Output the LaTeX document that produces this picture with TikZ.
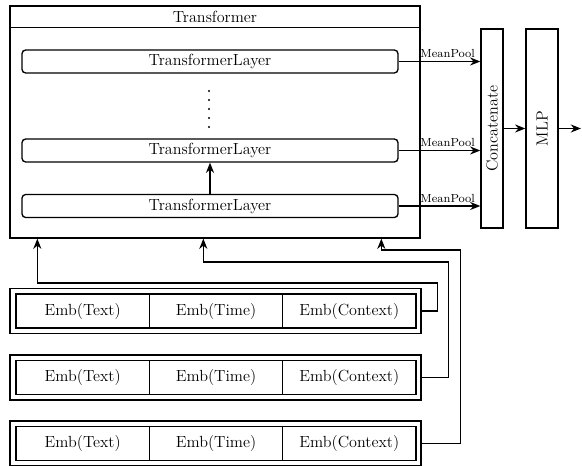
\documentclass[tikz,border=0pt]{standalone}
\usetikzlibrary{arrows.meta}
\def\u{0.024cm}
\tikzset{
  box/.style={draw, line width=0.9pt, inner sep=0pt},
  layerbox/.style={box, rounded corners=2.5pt, minimum width=376*\u, minimum height=23*\u},
  cell/.style={box, minimum width=133.3*\u, minimum height=34*\u},
  arr/.style={-{Stealth[length=7pt,width=5.5pt]}, line width=0.9pt},
  pool/.style={above, pos=0.6, font=\footnotesize, inner sep=2pt},
}

\begin{document}
\begin{tikzpicture}[x=\u, y=-\u, font=\fontsize{11}{13}\selectfont]
    \useasboundingbox (0,0) rectangle (582,466);

    % Transformer block with its title bar
    \node[box, minimum width=410*\u, minimum height=232*\u] (tf) at (215,122) {};
    \draw[line width=0.9pt] ([yshift=-22*\u]tf.north west) -- ([yshift=-22*\u]tf.north east);
    \node (title) at (215,17) {Transformer};

    % Layers
    \node[layerbox] (l1) at (210,61.5) {TransformerLayer};
    \node[layerbox] (l2) at (210,150.5) {TransformerLayer};
    \node[layerbox] (l3) at (210,206) {TransformerLayer};
    \draw[line width=1.5pt, line cap=round, dash pattern=on 0pt off 6.14pt] (209,91) -- (209,127.5);
    \draw[arr] (l3.north) -- (l2.south);

    % Head
    \node[box, minimum width=22*\u, minimum height=199*\u] (concat) at (492,128.5) {\rotatebox{90}{Concatenate}};
    \node[box, minimum width=32*\u, minimum height=199*\u] (mlp) at (542,128.5) {\rotatebox{90}{MLP}};
    \coordinate (out) at (581,128.5);
    \foreach \l in {l1,l2,l3}
        \draw[arr] (\l.east) -- (\l.east -| concat.west) node[pool] {MeanPool};
    \draw[arr] (concat) -- (mlp);
    \draw[arr] (mlp.east) -- (out);

    % Embedding rows
    \foreach \r/\y in {1/311,2/377.5,3/443.5} {
        \node[box, minimum width=411*\u, minimum height=45*\u] (emb\r) at (215.5,\y) {};
        \node[cell] (txt\r) at (82.7,\y) {Emb(Text)};
        \node[cell] (time\r) at (216,\y) {Emb(Time)};
        \node[cell] (ctx\r) at (349.3,\y) {Emb(Context)};
    }

    % Inputs into the transformer
    \draw[arr] (emb1.east) -- ++(16,0) -- ++(0,-28) -| ([xshift=28*\u]tf.south west);
    \draw[arr] (emb2.east) -- ++(27,0) -- ++(0,-115.5) -| ([xshift=194*\u]tf.south west);
    \draw[arr] (emb3.east) -- ++(39,0) -- ++(0,-193.5) -| ([xshift=372*\u]tf.south west);
\end{tikzpicture}
\end{document}
